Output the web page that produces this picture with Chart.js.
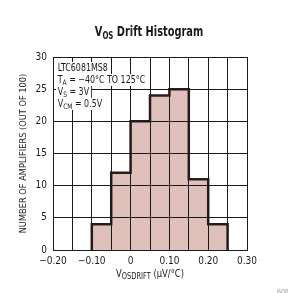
<!DOCTYPE html>
<html>
<head>
<meta charset="utf-8">
<script src="https://cdn.jsdelivr.net/npm/chart.js@4/dist/chart.umd.min.js"></script>
<style>
  html, body { margin: 0; padding: 0; background: #fff; }
  #wrap { position: relative; width: 288px; height: 293px; overflow: hidden; }
  #c { position: absolute; left: 0; top: 0; }
  .cf { font-family: "DejaVu Sans Condensed", "DejaVu Sans", sans-serif; font-stretch: condensed; color: #1a1a1a; white-space: nowrap; }
  .cf sub { line-height: 0; }
  #title { position: absolute; left: 0; width: 298px; top: 24px; text-align: center; font-weight: bold; font-size: 14px; line-height: 14px; transform: scaleX(0.78); transform-origin: 149px 0; }
  #title sub { font-size: 10px; vertical-align: -3px; }
  #note { position: absolute; left: 56px; top: 62px; font-size: 10px; line-height: 12px; transform: scaleX(0.88); transform-origin: 0 0; }
  #note div { background: #fff; width: fit-content; padding: 0 2px 0 2px; }
  #note sub { font-size: 7.5px; vertical-align: -2px; }
  #xlabel { position: absolute; left: 0; width: 300px; top: 268px; text-align: center; font-size: 10px; line-height: 12px; transform: scaleX(0.93); transform-origin: 150px 0; }
  #xlabel sub { font-size: 8px; vertical-align: -2px; }
  #gid { position: absolute; left: 277px; top: 288px; font-size: 7px; color: #999; }
</style>
</head>
<body>
<div id="wrap">
  <canvas id="c" width="288" height="293"></canvas>
  <div id="title" class="cf">V<sub>OS</sub> Drift Histogram</div>
  <div id="note" class="cf">
    <div>LTC6081MS8</div>
    <div>T<sub>A</sub> = −40°C TO 125°C</div>
    <div>V<sub>S</sub> = 3V</div>
    <div>V<sub>CM</sub> = 0.5V</div>
  </div>
  <div id="xlabel" class="cf">V<sub>OSDRIFT</sub> (µV/°C)</div>
  <div id="gid" class="cf">6081G12</div>
</div>
<script>
// Histogram bins (left edges) and counts (out of 100 amplifiers)
const binEdges = [-0.10, -0.05, 0.00, 0.05, 0.10, 0.15, 0.20, 0.25];
const counts   = [4, 12, 20, 24, 25, 11, 4];
const xTickLabels = ['−0.20', '', '−0.10', '', '0', '', '0.10', '', '0.20', '', '0.30'];
const yTickLabels = ['0', '5', '10', '15', '20', '25', '30'];
const yTitle = 'NUMBER OF AMPLIFIERS (OUT OF 100)';

const FONT = '"DejaVu Sans Condensed", "DejaVu Sans", sans-serif';

const pts = [{ x: binEdges[0], y: 0 }];
counts.forEach((c, i) => pts.push({ x: binEdges[i], y: c }));
pts.push({ x: binEdges[binEdges.length - 1], y: 0 });

new Chart(document.getElementById('c'), {
  type: 'line',
  data: {
    datasets: [{
      data: pts,
      stepped: 'before',
      fill: 'origin',
      backgroundColor: '#e0c0bb',
      borderColor: '#2a1c1c',
      borderWidth: 2.5,
      pointRadius: 0,
      tension: 0
    }]
  },
  options: {
    responsive: false,
    animation: false,
    devicePixelRatio: 1,
    plugins: { legend: { display: false }, tooltip: { enabled: false } },
    layout: { padding: { left: 0, top: 57, right: 41, bottom: 0 } },
    scales: {
      x: {
        type: 'linear',
        min: -0.2, max: 0.3,
        afterFit: s => { s.height = 43; },
        grid: { color: '#1a1a1a', lineWidth: 1, drawTicks: false, z: 1 },
        border: { display: true, color: '#1a1a1a', width: 1, z: 1 },
        ticks: {
          stepSize: 0.05, autoSkip: false, maxRotation: 0, padding: 5,
          color: '#1a1a1a', font: { family: FONT, size: 10 },
          callback: (v, i) => xTickLabels[i]
        }
      },
      y: {
        min: 0, max: 30,
        afterFit: s => { s.width = 53; },
        grid: { color: '#1a1a1a', lineWidth: 1, drawTicks: false, z: 1 },
        border: { display: true, color: '#1a1a1a', width: 1, z: 1 },
        ticks: {
          stepSize: 5, padding: 6,
          color: '#1a1a1a', font: { family: FONT, size: 10 },
          callback: (v, i) => yTickLabels[i]
        },
        title: {
          display: true, text: yTitle, color: '#1a1a1a',
          font: { family: FONT, size: 9.2 }, padding: { top: 18, bottom: 0 }
        }
      }
    }
  }
});
</script>
</body>
</html>
